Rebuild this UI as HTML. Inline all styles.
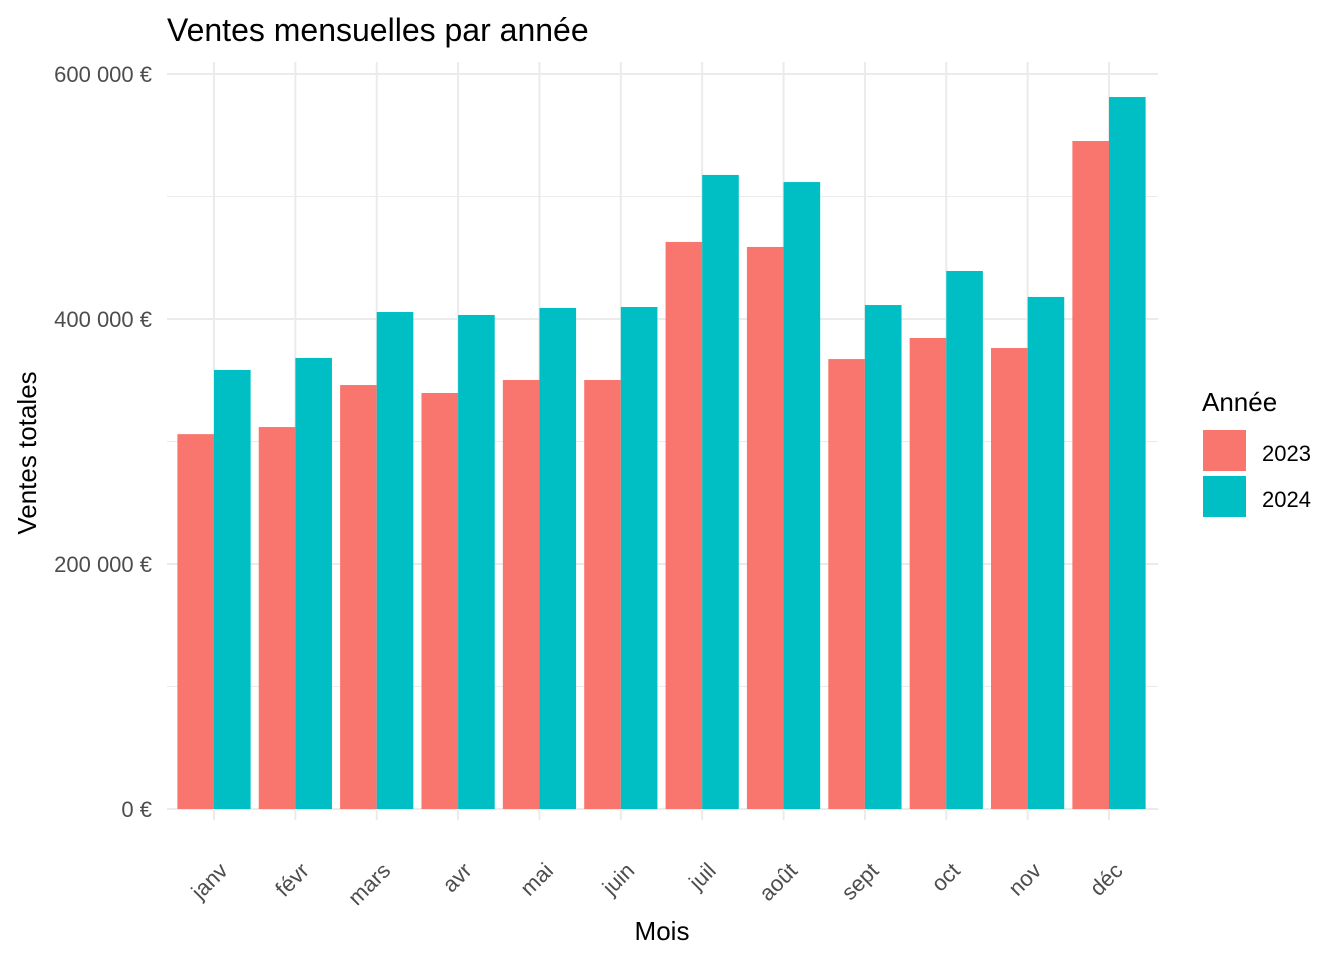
<!DOCTYPE html>
<html><head><meta charset="utf-8"><style>
body{margin:0;background:#fff}
text{font-family:"Liberation Sans",Arial,sans-serif}
</style></head><body>
<svg id="chart" width="1344" height="960" xmlns="http://www.w3.org/2000/svg">
<rect width="1344" height="960" fill="#fff"/>
<text x="167" y="41" font-size="32" fill="#000">Ventes mensuelles par année</text>
<g id="grid"></g><g id="bars"></g><g id="axes"></g>
<text x="662" y="940" font-size="26" text-anchor="middle">Mois</text>
<text transform="translate(36,453) rotate(-90)" font-size="26" text-anchor="middle">Ventes totales</text>
<g>
<text x="1202" y="411" font-size="26">Année</text>
<rect x="1203" y="430" width="43" height="41" fill="#F8766D"/>
<rect x="1203" y="476" width="43" height="41" fill="#00BFC4"/>
<text x="1262" y="461" font-size="22">2023</text>
<text x="1262" y="507" font-size="22">2024</text>
</g>
</svg>
<script>
const months=["janv","févr","mars","avr","mai","juin","juil","août","sept","oct","nov","déc"];
const sales2023=[306000,311800,346100,339600,350200,350200,462900,458800,367300,384500,376300,545300];
const sales2024=[358400,368200,405700,403300,409000,409800,517600,511800,411400,439200,418000,581200];
const yTicks=[0,200000,400000,600000];
const yTickLabels=["0 €","200 000 €","400 000 €","600 000 €"];
const NS="http://www.w3.org/2000/svg";
const x0=167,x1=1158,step=(1109-214)/11;
const xc=i=>214+step*i;
const y=v=>809-v*735/600000;
const g=document.getElementById("grid"),b=document.getElementById("bars"),a=document.getElementById("axes");
function mk(tag,attrs,parent){const e=document.createElementNS(NS,tag);for(const k in attrs)e.setAttribute(k,attrs[k]);parent.appendChild(e);return e;}
for(let i=0;i<yTicks.length-1;i++){const l=mk("line",{x1:x0,x2:x1,y1:y((yTicks[i]+yTicks[i+1])/2),y2:y((yTicks[i]+yTicks[i+1])/2),stroke:"#ebebeb","stroke-width":1},g);

}
yTicks.forEach((t,i)=>{const l=mk("line",{x1:x0,x2:x1,y1:y(t),y2:y(t),stroke:"#ebebeb","stroke-width":2},g);


const tx=mk("text",{x:152,y:y(t)+8,"font-size":22,fill:"#4d4d4d","text-anchor":"end"},a);tx.textContent=yTickLabels[i];

});
const bw=step*0.45;
months.forEach((m,i)=>{const c=xc(i);
const vl=mk("line",{x1:c,x2:c,y1:62,y2:820,stroke:"#ebebeb","stroke-width":2},g);


const r1=mk("rect",{x:c-bw,y:y(sales2023[i]),width:bw,height:809-y(sales2023[i]),fill:"#F8766D"},b);


const r2=mk("rect",{x:c,y:y(sales2024[i]),width:bw,height:809-y(sales2024[i]),fill:"#00BFC4"},b);


const tx=mk("text",{transform:`translate(${c+15},${872}) rotate(-45)`,"font-size":22,fill:"#4d4d4d","text-anchor":"end"},a);tx.textContent=m;

});
</script>
</body></html>
